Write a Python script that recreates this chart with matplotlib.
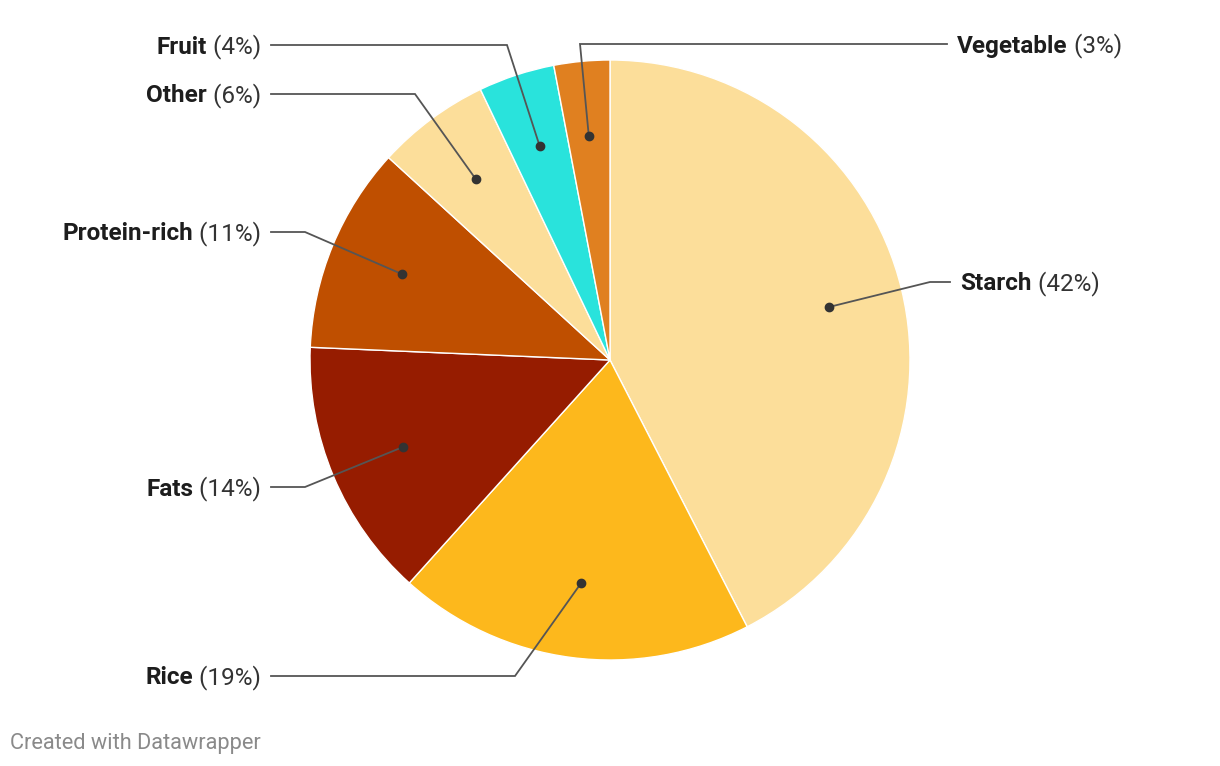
"""Pie chart of food groups with elbow leader labels (Datawrapper style)."""

import numpy as np
import matplotlib.pyplot as plt

plt.rcParams['font.family'] = ['Roboto', 'DejaVu Sans']

# ---------------------------------------------------------------------------
# Data
# ---------------------------------------------------------------------------
categories = ['Starch', 'Rice', 'Fats', 'Protein-rich', 'Other', 'Fruit', 'Vegetable']
shares = [42.4, 19.2, 14.0, 11.1, 6.1, 4.1, 3.0]
shown_pct = [42, 19, 14, 11, 6, 4, 3]
colors = ['#fcde9a', '#fdb81c', '#961c00', '#bf4f00', '#fcde9a', '#29e3dc', '#e08020']

# ---------------------------------------------------------------------------
# Layout (pixel space, y measured from top)
# ---------------------------------------------------------------------------
W, H = 1220, 766
cx, cy, R = 610, 360, 300
label_y = [282, 676, 487, 232, 94, 45, 44]
elbow_x = [930, 515, 305, 305, 415, 507, 580]
line_end_x = [950, 271, 271, 271, 271, 271, 947]
side = ['right', 'left', 'left', 'left', 'left', 'left', 'right']
FS = 17.5
TEXT_DROP = 2  # px: text sits slightly below the leader line in the original

fig = plt.figure(figsize=(W / 100, H / 100), dpi=100)
ax = fig.add_axes([0, 0, 1, 1])

wedges, _ = ax.pie(
    shares,
    colors=colors,
    startangle=90,
    counterclock=False,
    center=(cx, H - cy),
    radius=R,
    wedgeprops=dict(edgecolor='white', linewidth=1.0),
    frame=True,
)
ax.set_xlim(0, W)
ax.set_ylim(0, H)
ax.set_aspect('equal')
ax.axis('off')

line_col = '#555555'
for i, w in enumerate(wedges):
    mid = np.deg2rad((w.theta1 + w.theta2) / 2)
    dx = cx + 0.75 * R * np.cos(mid)
    dy = (H - cy) + 0.75 * R * np.sin(mid)
    ly = H - label_y[i]
    ax.plot([dx, elbow_x[i], line_end_x[i]], [dy, ly, ly],
            color=line_col, lw=1.3, solid_joinstyle='miter', zorder=3)
    ax.plot(dx, dy, 'o', color='#333333', ms=6, zorder=4)

    ty = ly - TEXT_DROP
    if side[i] == 'right':
        t = ax.text(line_end_x[i] + 10, ty, categories[i], ha='left', va='center',
                    fontsize=FS, fontweight='bold', color='#1d1d1d')
        ax.annotate(f' ({shown_pct[i]}%)', xycoords=t, xy=(1, 0.5), va='center',
                    ha='left', fontsize=FS, color='#333333')
    else:
        t = ax.text(line_end_x[i] - 10, ty, f' ({shown_pct[i]}%)', ha='right',
                    va='center', fontsize=FS, color='#333333')
        ax.annotate(categories[i], xycoords=t, xy=(0, 0.5), va='center',
                    ha='right', fontsize=FS, fontweight='bold', color='#1d1d1d')

fig.text(10 / W, 1 - 744 / H, 'Created with Datawrapper', ha='left', va='center',
         fontsize=15.7, color='#8a8a8a')

fig.savefig('out.png', dpi=100)
